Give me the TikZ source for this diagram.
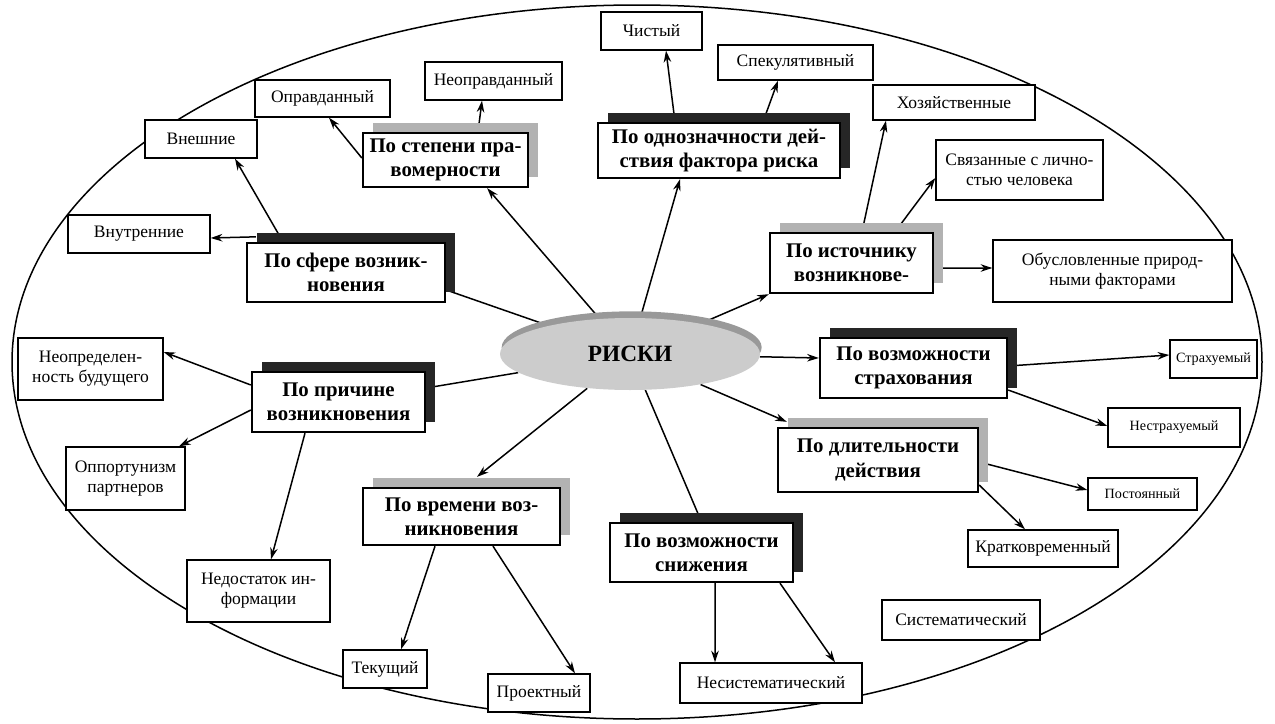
\documentclass[tikz,border=0pt]{standalone}
\usepackage{fontspec}
\setmainfont{Liberation Serif}
\usetikzlibrary{arrows.meta,shadows,backgrounds,shapes.geometric}
\newcommand\mybox[7]{\node[#6, minimum width={(#4-#2)*0.6pt}, minimum height={(#5-#3)*0.6pt}] (#1) at ({(#2+#4)/2},{(#3+#5)/2}) {#7};}
\tikzset{
  leaf/.style={draw, fill=white, line width=0.8pt, inner sep=1pt, align=center, font=\fontsize{10.5}{12}\selectfont},
  leafsm/.style={leaf, font=\fontsize{8.5}{10}\selectfont},
  cat/.style={draw, fill=white, line width=1.4pt, inner sep=1pt, align=center, font=\bfseries\fontsize{12.5}{14.5}\selectfont},
  darksh/.style={cat, drop shadow={shadow xshift=6pt, shadow yshift=6pt, fill=black!85, opacity=1}},
  graysh/.style={cat, drop shadow={shadow xshift=6pt, shadow yshift=6pt, fill=black!30, opacity=1}},
  conn/.style={line width=0.9pt},
  arr/.style={conn, -{Stealth[length=7pt,width=4.5pt]}},
}
\begin{document}
\begin{tikzpicture}[x=0.6pt, y=-0.6pt]
\useasboundingbox (0,0) rectangle (1275,724);
% center
\node[ellipse, fill=gray!40, minimum width=156pt, minimum height=43.2pt, inner sep=0pt,
      drop shadow={shadow xshift=1pt, shadow yshift=4pt, fill=gray!80, opacity=1},
      font=\bfseries\fontsize{14}{16}\selectfont] (risk) at (630,354) {РИСКИ};
% categories
\mybox{c_prav}{363}{133}{528}{187}{graysh}{По степени пра-\\вомерности}
\mybox{c_odn}{598}{123}{840}{178}{darksh}{По однозначности дей-\\ствия фактора риска}
\mybox{c_sfer}{247}{243}{445}{302}{darksh}{По сфере возник-\\новения}
\mybox{c_ist}{770}{233}{933}{293}{graysh}{По источнику\\возникнове-}
\mybox{c_strah}{820}{338}{1007}{398}{darksh}{По возможности\\страхования}
\mybox{c_prich}{252}{372}{425}{432}{darksh}{По причине\\возникновения}
\mybox{c_vrem}{363}{488}{560}{545}{graysh}{По времени воз-\\никновения}
\mybox{c_sniz}{610}{523}{793}{582}{darksh}{По возможности\\снижения}
\mybox{c_dlit}{778}{428}{978}{492}{graysh}{По длительности\\действия}
% leaves
\mybox{l_neopr}{425}{62}{562}{100}{leaf}{Неоправданный}
\mybox{l_chist}{601}{12}{702}{50}{leaf}{Чистый}
\mybox{l_spek}{718}{45}{873}{80}{leaf}{Спекулятивный}
\mybox{l_oprav}{255}{80}{390}{117}{leaf}{Оправданный}
\mybox{l_hoz}{873}{85}{1035}{120}{leaf}{Хозяйственные}
\mybox{l_vnesh}{145}{120}{257}{158}{leaf}{Внешние}
\mybox{l_sviaz}{936}{140}{1103}{200}{leaf}{Связанные с лично-\\стью человека}
\mybox{l_vnutr}{68}{215}{210}{253}{leaf}{Внутренние}
\mybox{l_obusl}{993}{240}{1232}{302}{leaf}{Обусловленные природ-\\ными факторами}
\mybox{l_neopred}{18}{338}{163}{400}{leaf}{Неопределен-\\ность будущего}
\mybox{l_strah}{1170}{340}{1257}{378}{leafsm}{Страхуемый}
\mybox{l_nestrah}{1108}{408}{1240}{447}{leafsm}{Нестрахуемый}
\mybox{l_opport}{66}{447}{185}{510}{leaf}{Оппортунизм\\партнеров}
\mybox{l_post}{1088}{478}{1197}{510}{leafsm}{Постоянный}
\mybox{l_krat}{968}{530}{1118}{567}{leaf}{Кратковременный}
\mybox{l_nedost}{187}{560}{330}{622}{leaf}{Недостаток ин-\\формации}
\mybox{l_sist}{882}{600}{1040}{640}{leaf}{Систематический}
\mybox{l_tek}{343}{650}{427}{688}{leaf}{Текущий}
\mybox{l_proekt}{488}{674}{590}{712}{leaf}{Проектный}
\mybox{l_nesist}{680}{663}{862}{703}{leaf}{Несистематический}
\begin{scope}[on background layer]
\draw[line width=0.9pt] (637,362) ellipse [x radius=375pt, y radius=214.2pt];
% from center
\draw[arr] (risk) -- ([xshift=25pt]c_prav.south);
\draw[arr] (risk) -- ([xshift=-23.4pt]c_odn.south);
\draw[conn] (risk) -- ([yshift=-10.5pt]c_sfer.east);
\draw[arr] (risk) -- (c_ist.south west);
\draw[arr] (risk) -- ([yshift=6pt]c_strah.west);
\draw[conn] (risk) -- ([yshift=8.4pt]c_prich.east);
\draw[arr] (risk) -- ([xshift=9.3pt, yshift=6pt]c_vrem.north);
\draw[conn] (risk) -- (c_sniz.north);
\draw[arr] (risk) -- ([xshift=6pt, yshift=3pt]c_dlit.north west);
% to leaves
\draw[arr] ([xshift=19.5pt]c_prav.north) -- ([xshift=-6.9pt]l_neopr.south);
\draw[arr] ([yshift=1.2pt]c_prav.west) -- ([xshift=3.9pt]l_oprav.south);
\draw[arr] ([xshift=-26.4pt]c_odn.north) -- ([xshift=8.7pt]l_chist.south);
\draw[arr] ([xshift=26.4pt]c_odn.north) -- ([xshift=-10.5pt]l_spek.south);
\draw[arr] ([xshift=-37.8pt]c_sfer.north) -- ([xshift=20.4pt]l_vnesh.south);
\draw[arr] ([xshift=6pt, yshift=3pt]c_sfer.north west) -- ([yshift=-2.4pt]l_vnutr.east);
\draw[arr] ([xshift=6.3pt]c_ist.north) -- ([xshift=-40.8pt]l_hoz.south);
\draw[arr] ([xshift=26.1pt]c_ist.north) -- ([yshift=-4.8pt]l_sviaz.west);
\draw[arr] ([yshift=-3pt]c_ist.east) -- ([yshift=1.8pt]l_obusl.west);
\draw[arr] ([yshift=1.2pt]c_strah.east) -- ([yshift=2.4pt]l_strah.west);
\draw[arr] ([yshift=-13.2pt]c_strah.east) -- ([yshift=0.9pt]l_nestrah.west);
\draw[arr] ([yshift=10.2pt]c_prich.west) -- ([yshift=10.2pt]l_neopred.east);
\draw[arr] ([yshift=-4.8pt]c_prich.west) -- ([xshift=-4pt]l_opport.north east);
\draw[arr] ([xshift=-20.1pt]c_prich.south) -- ([xshift=7.5pt]l_nedost.north);
\draw[arr] ([xshift=-15.9pt]c_vrem.south) -- ([xshift=9.6pt]l_tek.north);
\draw[arr] ([xshift=18.9pt]c_vrem.south) -- ([xshift=21.6pt]l_proekt.north);
\draw[arr] ([xshift=8.1pt]c_sniz.south) -- ([xshift=-33.6pt]l_nesist.north);
\draw[arr] ([xshift=47.1pt]c_sniz.south) -- ([xshift=38.4pt]l_nesist.north);
\draw[arr] ([yshift=-1.2pt]c_dlit.east) -- ([yshift=2.4pt]l_post.west);
\draw[arr] ([yshift=-15pt]c_dlit.east) -- ([xshift=-10.8pt]l_krat.north);
\end{scope}
\end{tikzpicture}
\end{document}
